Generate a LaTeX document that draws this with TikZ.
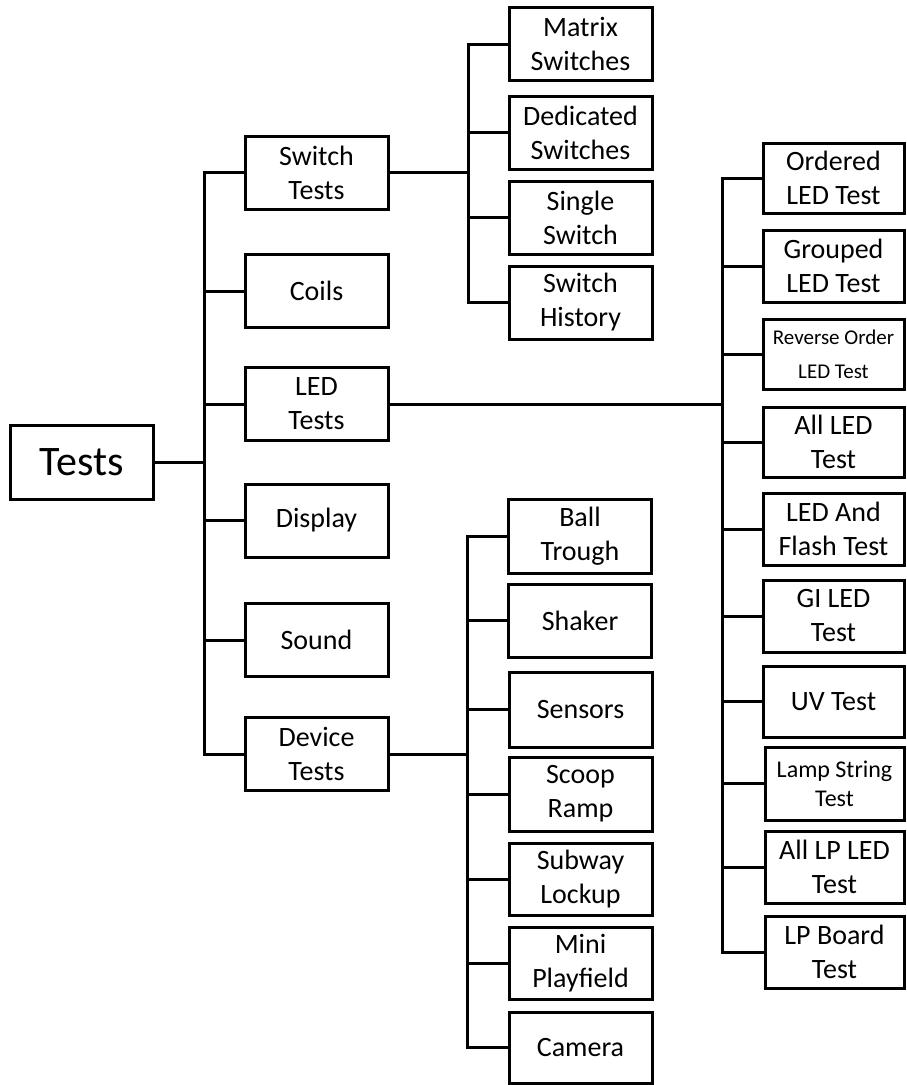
\documentclass[tikz,border=0pt]{standalone}
\usepackage{fontspec}
\setmainfont{Carlito}
\begin{document}
\begin{tikzpicture}[x={(1pt,0)},y={(0,-1pt)},
  box/.style={draw,line width=3pt,minimum width=143pt,minimum height=73pt,inner sep=0pt,align=center,font=\fontsize{28}{34}\selectfont},
  rbox/.style={box,minimum width=141pt},
  conn/.style={line width=3pt},
  small/.style={font=\fontsize{21}{34}\selectfont},
  mid/.style={font=\fontsize{24}{29}\selectfont}]
\useasboundingbox (0,0) rectangle (906,1085);
% root
\node[box,minimum height=74pt,font=\fontsize{42}{50}\selectfont] (tests) at (81.5,462) {Tests};
% level 1
\node[box] (sw) at (316.5,172.5) {Switch\\Tests};
\node[box] (coils) at (316.5,291) {Coils};
\node[box] (led) at (316.5,404) {LED\\Tests};
\node[box] (disp) at (316.5,520.5) {Display};
\node[box] (sound) at (316.5,640) {Sound};
\node[box] (dev) at (316.5,754) {Device\\Tests};
% switch children
\node[box] (matrix) at (580.5,44) {Matrix\\Switches};
\node[box] (ded) at (580.5,132.5) {Dedicated\\Switches};
\node[box] (single) at (580.5,217.5) {Single\\Switch};
\node[box] (hist) at (580.5,302.5) {Switch\\History};
% device children
\node[box,minimum height=74pt] (ball) at (580,536) {Ball\\Trough};
\node[box] (shaker) at (580,620.5) {Shaker};
\node[box,minimum height=75pt] (sensors) at (580.5,709.5) {Sensors};
\node[box,minimum height=74pt] (scoop) at (580.5,794) {Scoop\\Ramp};
\node[box,minimum height=72pt] (subway) at (580.5,879) {Subway\\Lockup};
\node[box,minimum height=72pt] (mini) at (580.5,963) {Mini\\Playfield};
\node[box,minimum height=71pt] (camera) at (580.5,1047.5) {Camera};
% LED children
\node[rbox,minimum height=70pt] (ordered) at (833.5,178) {Ordered\\LED Test};
\node[rbox,minimum height=72pt] (grouped) at (833.5,266) {Grouped\\LED Test};
\node[rbox,minimum height=70pt,small] (reverse) at (833.5,354) {Reverse Order\\LED Test};
\node[rbox,minimum height=70pt] (allled) at (833.5,442) {All LED\\Test};
\node[rbox,minimum height=72pt] (flash) at (833.5,529) {LED And\\Flash Test};
\node[rbox,minimum height=72pt] (gi) at (833.5,616) {GI LED\\Test};
\node[rbox,minimum height=71pt] (uv) at (833.5,701.5) {UV Test};
\node[rbox,minimum width=139pt,minimum height=73pt,mid] (lamp) at (834.5,783.5) {Lamp String\\Test};
\node[rbox,minimum width=139pt,minimum height=72pt] (alllp) at (834.5,867) {All LP LED\\Test};
\node[rbox,minimum width=139pt,minimum height=72pt] (lpboard) at (834.5,952) {LP Board\\Test};
% spines
\coordinate (s0) at (204,0);
\coordinate (s1) at (468,0);
\coordinate (s2) at (467,0);
\coordinate (s3) at (722,0);
% root connectors
\draw[conn] (tests.east) -- (tests.east -| s0);
\draw[conn] (sw.west) -- (sw.west -| s0) |- (dev.west);
\foreach \n in {coils,led,disp,sound} \draw[conn] (\n.west) -- (\n.west -| s0);
% switch connectors
\draw[conn] (sw.east) -- (sw.east -| s1);
\draw[conn] (matrix.west) -- (matrix.west -| s1) |- (hist.west);
\foreach \n in {ded,single} \draw[conn] (\n.west) -- (\n.west -| s1);
% device connectors
\draw[conn] (dev.east) -- (dev.east -| s2);
\draw[conn] (ball.west) -- (ball.west -| s2) |- (camera.west);
\foreach \n in {shaker,sensors,scoop,subway,mini} \draw[conn] (\n.west) -- (\n.west -| s2);
% LED connectors
\draw[conn] (led.east) -- (led.east -| s3);
\draw[conn] (ordered.west) -- (ordered.west -| s3) |- (lpboard.west);
\foreach \n in {grouped,reverse,allled,flash,gi,uv,lamp,alllp} \draw[conn] (\n.west) -- (\n.west -| s3);
\end{tikzpicture}
\end{document}
